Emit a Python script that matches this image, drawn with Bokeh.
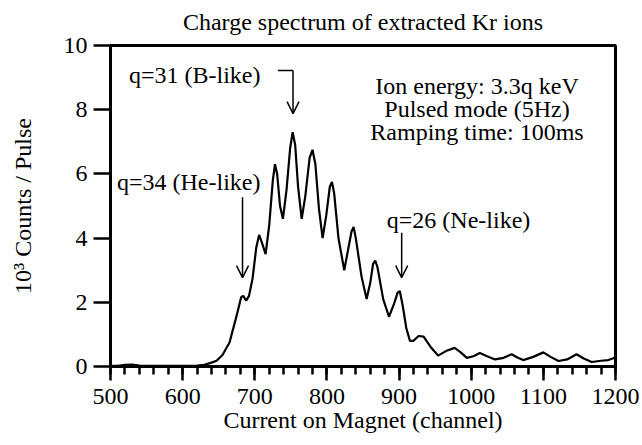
from bokeh.plotting import figure
from bokeh.models import FixedTicker, Label, Arrow, OpenHead
from bokeh.embed import file_html
from bokeh.resources import INLINE

# ---- data ----
channel = [500, 510, 520, 530, 540, 560, 580, 600, 620, 630, 640, 647, 655, 665, 675,
           681, 684, 688, 692, 697, 702, 706, 710, 715, 720, 725, 728, 731, 735, 739,
           744, 749, 752.5, 756, 760, 765, 770, 776, 780, 784, 789, 794, 799, 804, 807,
           810, 816, 824, 829, 834, 837, 840, 848, 855, 860, 864, 867, 870, 878, 886,
           893, 898, 901, 905, 910, 915, 920, 927, 934, 944, 954, 965, 977, 985, 994,
           1003, 1012, 1022, 1033, 1045, 1056, 1064, 1072, 1086, 1100, 1110, 1121, 1133,
           1146, 1156, 1167, 1180, 1190, 1197, 1200]
counts = [0.02, 0.02, 0.05, 0.06, 0.03, 0.02, 0.02, 0.02, 0.03, 0.05, 0.12, 0.18, 0.35, 0.75, 1.6,
          2.15, 2.2, 2.05, 2.2, 2.75, 3.7, 4.1, 3.85, 3.5, 4.4, 5.8, 6.3, 6.0, 5.0, 4.6,
          5.5, 6.8, 7.3, 6.9, 5.6, 4.6, 5.3, 6.5, 6.75, 6.3, 4.9, 4.0, 4.7, 5.6, 5.75,
          5.4, 4.0, 3.0, 3.6, 4.2, 4.35, 4.0, 2.8, 2.1, 2.6, 3.2, 3.3, 3.1, 2.1, 1.55,
          1.95, 2.3, 2.35, 1.9, 1.2, 0.8, 0.8, 0.95, 0.93, 0.6, 0.34, 0.48, 0.58, 0.45, 0.27,
          0.32, 0.42, 0.32, 0.22, 0.27, 0.38, 0.28, 0.2, 0.3, 0.44, 0.3, 0.17, 0.22,
          0.38, 0.25, 0.14, 0.18, 0.2, 0.26, 0.3]

x_major = [500, 600, 700, 800, 900, 1000, 1100, 1200]
x_minor = [v for v in range(500, 1201, 20)]
y_major = [0, 2, 4, 6, 8, 10]

title_text = "Charge spectrum of extracted Kr ions"
x_label = "Current on Magnet (channel)"
y_label = "10\u00b3 Counts / Pulse"

# annotations: text, x (left), y (baseline)
ann_text = ["q=31 (B-like)", "q=34 (He-like)", "q=26 (Ne-like)"]
ann_x = [525.6, 509, 883]
ann_y = [9.07, 5.76, 4.55]

# arrows: start / end
arr_x0 = [753, 683, 903.6]
arr_y0 = [9.22, 5.27, 4.17]
arr_x1 = [753, 683, 903.6]
arr_y1 = [7.88, 2.77, 2.77]
hook_x = [732, 753]
hook_y = [9.22, 9.22]

info_lines = ["Ion energy: 3.3q keV", "Pulsed mode (5Hz)", "Ramping time: 100ms"]
info_x = 1008
info_y = [8.75, 8.02, 7.29]

FONT = "Liberation Serif"
FS = "24px"

p = figure(width=640, height=443, x_range=(500, 1200), y_range=(0, 10),
           output_backend="svg", toolbar_location=None,
           min_border_left=110, min_border_right=25, min_border_top=45, min_border_bottom=77)
p.background_fill_color = "white"
p.border_fill_color = "white"
p.outline_line_color = "black"
p.outline_line_width = 3
p.grid.visible = False

p.title.text = title_text
p.title.align = "center"
p.title.vertical_align = "top"
p.title.text_font = FONT
p.title.text_font_size = FS
p.title.text_font_style = "normal"
p.title.text_color = "black"
p.title.standoff = 17

p.line(channel, counts, line_color="black", line_width=2.2)

# axes
p.xaxis.ticker = FixedTicker(ticks=x_major, minor_ticks=x_minor)
p.yaxis.ticker = FixedTicker(ticks=y_major)
for ax in (p.xaxis, p.yaxis):
    ax.axis_line_width = 3
    ax.major_tick_line_width = 2.5
    ax.minor_tick_line_width = 2.5
    ax.major_tick_in = 0
    ax.minor_tick_in = 0
    ax.major_label_text_font = FONT
    ax.major_label_text_font_size = FS
    ax.major_label_text_color = "black"
    ax.axis_label_text_font = FONT
    ax.axis_label_text_font_size = FS
    ax.axis_label_text_font_style = "normal"
    ax.axis_label_text_color = "black"
p.xaxis.major_tick_out = 14
p.xaxis.minor_tick_out = 8
p.xaxis.major_label_standoff = 8
p.xaxis.axis_label = x_label
p.xaxis.axis_label_standoff = 0
p.yaxis.major_tick_out = 17
p.yaxis.minor_tick_line_color = None
p.yaxis.major_label_standoff = 6
p.yaxis.axis_label = y_label
p.yaxis.axis_label_standoff = 25

for t, x, y in zip(ann_text, ann_x, ann_y):
    p.add_layout(Label(x=x, y=y, text=t, text_align="left", text_baseline="alphabetic",
                       text_font=FONT, text_font_size=FS, text_color="black"))

for t, y in zip(info_lines, info_y):
    p.add_layout(Label(x=info_x, y=y, text=t, text_align="center", text_baseline="alphabetic",
                       text_font=FONT, text_font_size=FS, text_color="black"))

for x0, y0, x1, y1 in zip(arr_x0, arr_y0, arr_x1, arr_y1):
    p.add_layout(Arrow(end=OpenHead(size=12, line_width=1.5, line_color="black"),
                       x_start=x0, y_start=y0, x_end=x1, y_end=y1,
                       line_width=1.5, line_color="black"))
p.line(hook_x, hook_y, line_color="black", line_width=1.5)

open("out.html", "w").write(file_html(p, INLINE))
